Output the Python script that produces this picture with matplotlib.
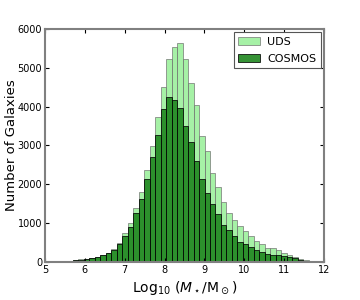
import matplotlib
matplotlib.use("Agg")
import matplotlib.pyplot as plt
import numpy as np

# histogram bins (log stellar mass)
bin_lo = 5.42
bin_hi = 11.62
n_bins = 45

uds = [25, 35, 48, 65, 75, 100, 128, 180, 240, 335,
       480, 747, 990, 1392, 1804, 2361, 2997, 3737, 4510, 5240,
       5541, 5650, 5232, 4613, 4054, 3240, 2851, 2300, 1932, 1536,
       1263, 1090, 936, 790, 661, 541, 472, 361, 361, 317,
       232, 188, 129, 77, 40]
cosmos = [22, 30, 40, 57, 68, 93, 118, 170, 230, 318,
          465, 661, 910, 1270, 1624, 2147, 2706, 3281, 3943, 4243,
          4183, 3959, 3495, 3093, 2611, 2130, 1779, 1490, 1240, 953,
          832, 661, 506, 472, 386, 317, 248, 214, 188, 188,
          146, 129, 103, 60, 20]

edges = np.linspace(bin_lo, bin_hi, n_bins + 1)
width = edges[1] - edges[0]

fig = plt.figure(figsize=(3.6, 3.0), dpi=100)
ax = fig.add_axes([0.125, 0.127, 0.775, 0.776])

ax.bar(edges[:-1], uds, width=width, align='edge', color='lightgreen',
       alpha=0.8, edgecolor='#707070', linewidth=0.6, label='UDS')
ax.bar(edges[:-1], cosmos, width=width, align='edge', color='#1f861f',
       alpha=0.9, edgecolor='black', linewidth=0.6, label='COSMOS')

ax.set_xlim(5, 12)
ax.set_ylim(0, 6000)
ax.set_xticks(range(5, 13))
ax.set_yticks(range(0, 6001, 1000))
ax.tick_params(direction='in', top=True, right=True, labelsize=7,
               length=3, width=0.8, pad=2)
for s in ax.spines.values():
    s.set_color('#808080')
    s.set_linewidth(1.5)

ax.set_xlabel(r'Log$_{10}$ ($M_\star$/M$_\odot$)', fontsize=10)
ax.set_ylabel('Number of Galaxies', fontsize=9.5)
ax.yaxis.set_label_coords(-0.097, 0.5)
ax.xaxis.set_label_coords(0.5, -0.075)

leg = ax.legend(loc='upper right', fontsize=8, fancybox=False,
                handlelength=2.0, handletextpad=0.6, labelspacing=0.6,
                borderaxespad=0.3, framealpha=1)
leg.get_frame().set_edgecolor('#555555')
leg.get_frame().set_linewidth(0.8)

fig.savefig('out.png', dpi=100)
